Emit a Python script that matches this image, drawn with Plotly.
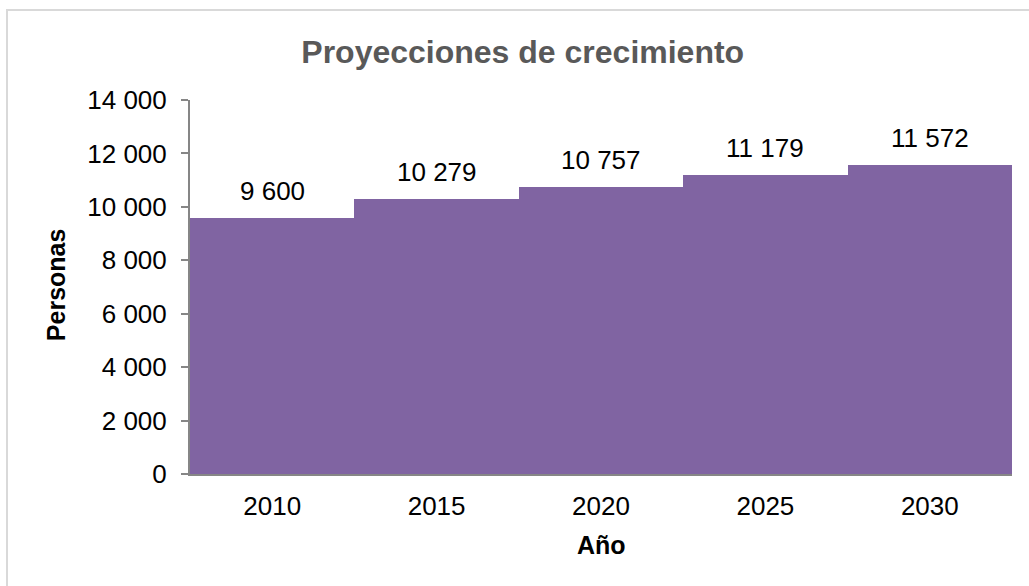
import plotly.graph_objects as go

years = ["2010", "2015", "2020", "2025", "2030"]
personas = [9600, 10279, 10757, 11179, 11572]
y_ticks = [0, 2000, 4000, 6000, 8000, 10000, 12000, 14000]

bar_color = "#8064A2"
font_family = "Liberation Sans, Arial, sans-serif"

def fmt(v):
    return f"{v:,}".replace(",", " ")

fig = go.Figure()
fig.add_trace(go.Bar(x=years, y=personas, marker=dict(color=bar_color, line=dict(width=0)),
                     hoverinfo="skip"))

annotations = []
for i, v in enumerate(personas):
    # category axis: use the category index so the numeric-looking label is not read as an index
    annotations.append(dict(x=i, y=v, xref="x", yref="y", text=fmt(v), showarrow=False,
                            yanchor="bottom", yshift=10,
                            font=dict(family=font_family, size=26, color="#000000")))
annotations.append(dict(x=-0.163, y=0.505, xref="paper", yref="paper", text="<b>Personas</b>",
                        textangle=-90, showarrow=False, xanchor="center", yanchor="middle",
                        font=dict(family=font_family, size=25, color="#000000")))
annotations.append(dict(x=0.5, y=-0.19, xref="paper", yref="paper", text="<b>Año</b>",
                        showarrow=False, xanchor="center", yanchor="middle",
                        font=dict(family=font_family, size=25, color="#000000")))

fig.update_layout(
    width=1029, height=586,
    margin=dict(l=190, r=17, t=100, b=112),
    paper_bgcolor="white", plot_bgcolor="white",
    bargap=0,
    showlegend=False,
    separators=", ",
    title=dict(text="<b>Proyecciones de crecimiento</b>", x=0.508, xanchor="center",
               y=1 - 52 / 586, yanchor="middle", yref="container",
               font=dict(family=font_family, size=32, color="#595959")),
    annotations=annotations,
    shapes=[dict(type="rect", xref="paper", yref="paper", x0=-0.2226, x1=1.1, y0=-0.5, y1=1.2406,
                 line=dict(color="#D9D9D9", width=2), fillcolor="rgba(0,0,0,0)", layer="below")],
)
fig.update_xaxes(type="category", range=[-0.5, 4.5], showline=True, linecolor="#868686",
                 linewidth=2, ticks="", showgrid=False,
                 tickfont=dict(family=font_family, size=26, color="#000000"),
                 ticklabelstandoff=8)
fig.update_yaxes(range=[0, 14000], tickvals=y_ticks, ticktext=[fmt(t) for t in y_ticks],
                 showline=True, linecolor="#868686", linewidth=2, ticks="outside", ticklen=7,
                 tickcolor="#868686", tickwidth=2, showgrid=False, zeroline=False,
                 tickfont=dict(family=font_family, size=26, color="#000000"),
                 ticklabelstandoff=9)

fig.write_html("out.html", config={"displayModeBar": False},
               post_script="document.body.style.margin='0px';")
